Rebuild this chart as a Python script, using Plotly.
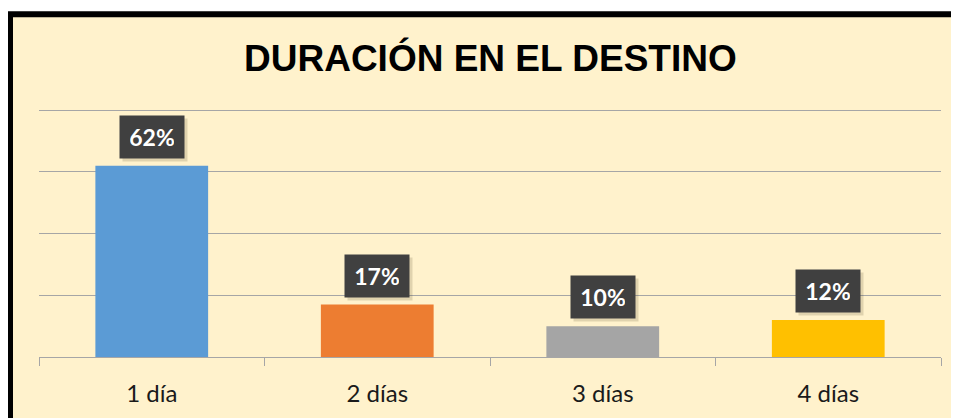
import plotly.graph_objects as go

categories = ["1 día", "2 días", "3 días", "4 días"]
values = [0.62, 0.17, 0.10, 0.12]
labels = ["62%", "17%", "10%", "12%"]
bar_colors = ["#5B9BD5", "#ED7D31", "#A5A5A5", "#FFC000"]
title_text = "DURACIÓN EN EL DESTINO"

OFF = 8  # page body margin
Y_TOP_GRID = 0.8
Y_MAX = 0.82
W, H = 959 - OFF, 418 - OFF
BASE_PX = 357          # screen y of the baseline
TOPGRID_PX = 110       # screen y of the 80% gridline
scale = (BASE_PX - TOPGRID_PX) / Y_TOP_GRID
L, R, B = 39 - OFF, 18, 418 - BASE_PX
T = (BASE_PX - OFF) - Y_MAX * scale
PW, PH = W - L - R, H - T - B

def px_x(px):
    return (px - OFF - L) / PW

def px_y(py):
    return (H - B - (py - OFF)) / PH

fig = go.Figure()
fig.add_trace(go.Bar(
    x=categories, y=values, marker=dict(color=bar_colors, line=dict(width=0)),
    width=0.5, hoverinfo="skip", showlegend=False,
))

# shadows and data labels
for c, v, t in zip(categories, values, labels):
    fig.add_annotation(
        x=c, y=v, xref="x", yref="y", text=" ", showarrow=False,
        yanchor="bottom", yshift=4, xshift=3, width=44, height=22,
        font=dict(family="Lato", size=23, color="rgba(0,0,0,0)"),
        bgcolor="rgba(60,50,20,0.16)", borderpad=10,
    )
    fig.add_annotation(
        x=c, y=v, xref="x", yref="y", text="<b>" + t + "</b>", showarrow=False,
        yanchor="bottom", yshift=7, width=44, height=22,
        font=dict(family="Lato", size=23, color="#FFFFFF"),
        bgcolor="#404040", borderpad=10,
    )

fig.add_annotation(
    x=0.5, y=px_y(58), xref="paper", yref="paper", text="<b>" + title_text + "</b>",
    showarrow=False, xanchor="center", yanchor="middle",
    font=dict(family="Liberation Sans", size=37, color="#000000"),
)

# outer frame
fig.add_shape(
    type="rect", xref="paper", yref="paper",
    x0=px_x(10), x1=px_x(1000), y0=px_y(460), y1=px_y(14),
    line=dict(color="#000000", width=6), fillcolor="#FFF2CC", layer="below",
)

fig.update_layout(
    width=W, height=H, margin=dict(l=L, r=R, t=T, b=B),
    paper_bgcolor="#FFFFFF", plot_bgcolor="rgba(0,0,0,0)",
    bargap=0.5,
    xaxis=dict(
        type="category", showgrid=False, showline=True, linecolor="#A6A6A6", linewidth=1,
        ticks="outside", tickson="boundaries", ticklen=8, tickcolor="#A6A6A6",
        tickfont=dict(family="Lato", size=24, color="#1A1A1A"), ticklabelstandoff=15,
        zeroline=False, fixedrange=True,
    ),
    yaxis=dict(
        range=[0, Y_MAX], dtick=0.2, tick0=0, showgrid=True, gridcolor="#A6A6A6", gridwidth=1,
        showticklabels=False, zeroline=False, showline=False, fixedrange=True,
    ),
)

fig.write_html("out.html")
